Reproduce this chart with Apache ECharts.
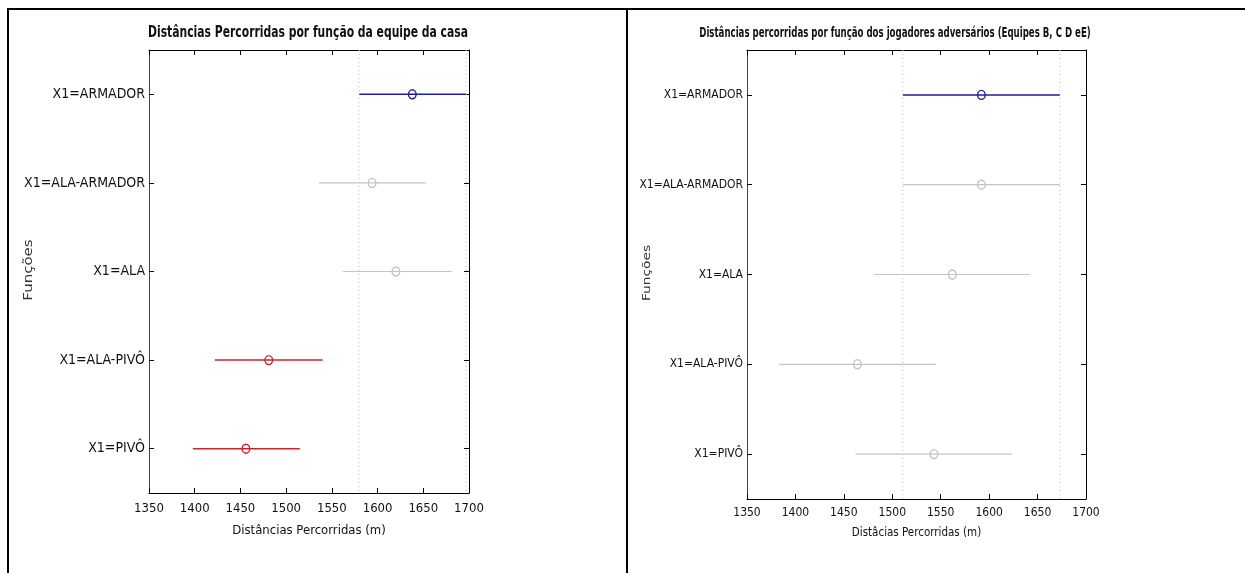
<!DOCTYPE html>
<html>
<head>
<meta charset="utf-8">
<script src="https://cdn.jsdelivr.net/npm/echarts@6/dist/echarts.min.js"></script>
<style>
html,body{margin:0;padding:0;background:#fff;}
#chart{width:1245px;height:573px;}
</style>
</head>
<body>
<div id="chart"></div>
<script>
// ---- data ----
const categories = ['X1=ARMADOR', 'X1=ALA-ARMADOR', 'X1=ALA', 'X1=ALA-PIVÔ', 'X1=PIVÔ'];
const xTicks = { min: 1350, max: 1700, step: 50 };

// Home team (left): lower bound, mean, upper bound
const homeLow  = [1580, 1536, 1562, 1422, 1398];
const homeMean = [1638, 1594, 1620, 1481, 1456];
const homeHigh = [1697, 1653, 1681, 1540, 1515];
const homeGroup = ['selected', 'same', 'same', 'different', 'different'];

// Opponents (right)
const oppLow  = [1511, 1511, 1481, 1383, 1462];
const oppMean = [1592, 1592, 1562, 1464, 1543];
const oppHigh = [1673, 1673, 1642, 1545, 1624];
const oppGroup = ['selected', 'same', 'same', 'same', 'same'];

const titles = [
  'Distâncias Percorridas por função da equipe da casa',
  'Distâncias percorridas por função dos jogadores adversários (Equipes B, C D eE)'
];
const xNames = ['Distâncias Percorridas (m)', 'Distâcias Percorridas (m)'];
const yName = 'Funções';

// ---- styles ----
const groupColor = { selected: '#1f1f95', same: '#c4c4c4', different: '#cc2229' };
const groupWidth = { selected: 1.5, same: 1.2, different: 1.5 };
const NARROW = "'DejaVu Sans Condensed', 'Liberation Sans Narrow', sans-serif";

function buildData(low, mean, high, group) {
  return categories.map((c, i) => ({
    value: [low[i], mean[i], high[i], i],
    group: group[i]
  }));
}

function errRender(groups) {
  return function (params, api) {
    const ci = api.value(3);
    const p0 = api.coord([api.value(0), ci]);
    const p1 = api.coord([api.value(1), ci]);
    const p2 = api.coord([api.value(2), ci]);
    const g = groups[params.dataIndex];
    const col = groupColor[g];
    return {
      type: 'group',
      children: [
        { type: 'line', shape: { x1: p0[0], y1: p0[1], x2: p2[0], y2: p2[1] },
          style: { stroke: col, lineWidth: groupWidth[g] } },
        { type: 'ellipse', shape: { cx: p1[0], cy: p1[1], rx: 3.8, ry: 4.5 },
          style: { fill: 'none', stroke: col, lineWidth: 1.4 } }
      ]
    };
  };
}

function refRender(params, api) {
  const cs = params.coordSys;
  const x = api.coord([api.value(0), 0])[0];
  return {
    type: 'line',
    shape: { x1: x, y1: cs.y, x2: x, y2: cs.y + cs.height },
    style: { stroke: '#bdbdbd', lineWidth: 1, lineDash: [1, 3] }
  };
}

const grids = [
  { left: 149, top: 50, width: 320, height: 443 },
  { left: 747, top: 50, width: 339, height: 449 }
];
const tickFont = [13, 12];
const tickMargin = [9, 8];
const catFont = [14, 12];
const nameFont = [13, 11.5];
const nameGap = [31, 28];

const xAxes = [], yAxes = [], series = [];
[0, 1].forEach(k => {
  xAxes.push({
    type: 'value', gridIndex: k, position: 'bottom',
    min: xTicks.min, max: xTicks.max, interval: xTicks.step,
    name: xNames[k], nameLocation: 'middle', nameGap: nameGap[k],
    nameTextStyle: { fontFamily: NARROW, fontSize: nameFont[k], color: '#111' },
    axisLine: { show: true, lineStyle: { color: '#000', width: 1 } },
    axisTick: { show: true, inside: true, length: 5, lineStyle: { color: '#000' } },
    axisLabel: { fontFamily: NARROW, fontSize: tickFont[k], color: '#111', margin: tickMargin[k],
                 formatter: v => String(v) },
    splitLine: { show: false }
  });
  xAxes.push({
    type: 'value', gridIndex: k, position: 'top',
    min: xTicks.min, max: xTicks.max, interval: xTicks.step,
    axisLine: { show: true, lineStyle: { color: '#000', width: 1 } },
    axisTick: { show: true, inside: true, length: 5, lineStyle: { color: '#000' } },
    axisLabel: { show: false }, splitLine: { show: false }
  });
  yAxes.push({
    type: 'category', gridIndex: k, position: 'left', inverse: true,
    data: categories,
    axisLine: { show: true, lineStyle: { color: '#444', width: 1 } },
    axisTick: { show: true, inside: true, length: 5, alignWithLabel: true, lineStyle: { color: '#000' } },
    axisLabel: { fontFamily: NARROW, fontSize: catFont[k], color: '#111', margin: 4 },
    splitLine: { show: false }
  });
  yAxes.push({
    type: 'category', gridIndex: k, position: 'right', inverse: true,
    data: categories,
    axisLine: { show: true, lineStyle: { color: '#000', width: 1 } },
    axisTick: { show: true, inside: true, length: 5, alignWithLabel: true, lineStyle: { color: '#000' } },
    axisLabel: { show: false }, splitLine: { show: false }
  });
});

series.push({
  type: 'custom', xAxisIndex: 0, yAxisIndex: 0, z: 3,
  renderItem: refRender,
  data: [[homeLow[0]], [homeHigh[0]]], silent: true
});
series.push({
  type: 'custom', xAxisIndex: 0, yAxisIndex: 0, z: 5,
  renderItem: errRender(homeGroup),
  encode: { x: [0, 1, 2], y: 3 },
  data: buildData(homeLow, homeMean, homeHigh, homeGroup)
});
series.push({
  type: 'custom', xAxisIndex: 2, yAxisIndex: 2, z: 3,
  renderItem: refRender,
  data: [[oppLow[0]], [oppHigh[0]]], silent: true
});
series.push({
  type: 'custom', xAxisIndex: 2, yAxisIndex: 2, z: 5,
  renderItem: errRender(oppGroup),
  encode: { x: [0, 1, 2], y: 3 },
  data: buildData(oppLow, oppMean, oppHigh, oppGroup)
});

const chart = echarts.init(document.getElementById('chart'), null, { renderer: 'canvas' });
chart.setOption({
  backgroundColor: '#fff',
  animation: false,
  grid: grids,
  xAxis: xAxes,
  yAxis: yAxes,
  series: series,
  graphic: [
    { type: 'line', shape: { x1: 7, y1: 9, x2: 1245, y2: 9 }, style: { stroke: '#000', lineWidth: 2 } },
    { type: 'line', shape: { x1: 8, y1: 8, x2: 8, y2: 573 }, style: { stroke: '#000', lineWidth: 2 } },
    { type: 'line', shape: { x1: 627, y1: 8, x2: 627, y2: 573 }, style: { stroke: '#000', lineWidth: 2 } },
    { type: 'text', x: 308, y: 33, scaleX: 0.8,
      style: { text: titles[0], font: "bold 15px " + NARROW, fill: '#111', align: 'center', verticalAlign: 'middle' } },
    { type: 'text', x: 895, y: 33, scaleX: 0.66,
      style: { text: titles[1], font: "bold 14.5px " + NARROW, fill: '#111', align: 'center', verticalAlign: 'middle' } },
    { type: 'text', x: 29, y: 270, rotation: Math.PI / 2, scaleX: 1.25,
      style: { text: yName, font: "12px 'DejaVu Sans', sans-serif", fill: '#333', align: 'center', verticalAlign: 'middle' } },
    { type: 'text', x: 647, y: 273, rotation: Math.PI / 2, scaleX: 1.25,
      style: { text: yName, font: "11px 'DejaVu Sans', sans-serif", fill: '#333', align: 'center', verticalAlign: 'middle' } }
  ]
});
</script>
</body>
</html>
